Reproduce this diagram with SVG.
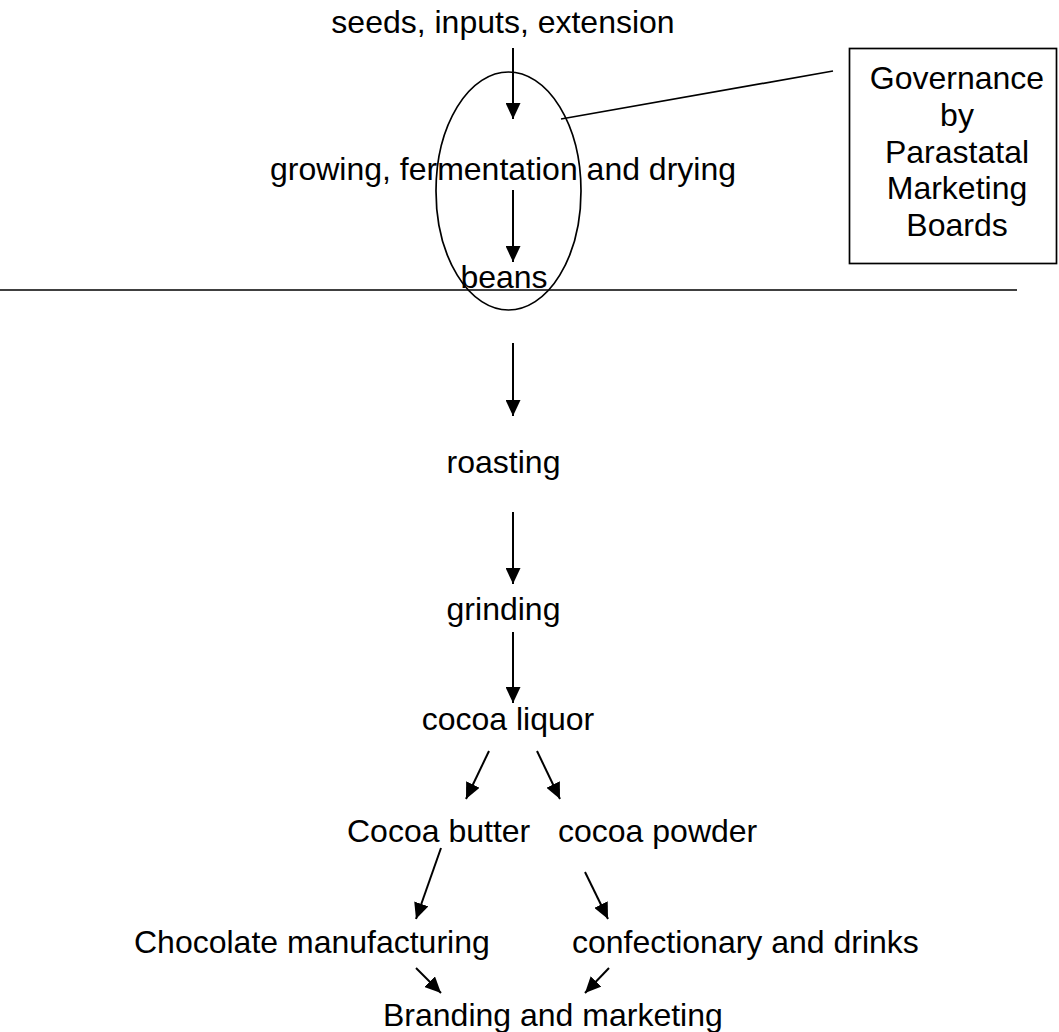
<svg xmlns="http://www.w3.org/2000/svg" width="1059" height="1032" viewBox="0 0 1059 1032">
  <style>
    text { font-family: "Liberation Sans", Arial, sans-serif; font-size: 32px; fill: #000; }
    .c { text-anchor: middle; }
    .ln { stroke: #000; stroke-width: 1.7; fill: none; }
    .arr { stroke: #000; stroke-width: 2; fill: none; marker-end: url(#head); }
  </style>
  <defs>
    <marker id="head" markerUnits="userSpaceOnUse" markerWidth="16" markerHeight="15" refX="16" refY="7.5" orient="auto">
      <path d="M0,0 L16,7.5 L0,15 z" fill="#000"/>
    </marker>
  </defs>
  <rect width="1059" height="1032" fill="#fff"/>

  <!-- farm-level stages -->
  <g id="seeds"><text class="c" x="503" y="33">seeds, inputs, extension</text></g>
  <g id="growing"><text class="c" x="503" y="180">growing, fermentation and drying</text></g>
  <g id="beans"><text class="c" x="504" y="288">beans</text></g>

  <!-- marketing board scope -->
  <g id="board-scope"><ellipse class="ln" cx="508.5" cy="191" rx="72.5" ry="119"/></g>
  <g id="governance">
    <rect class="ln" x="849.5" y="48.5" width="207" height="215"/>
    <text class="c" x="957" y="89">Governance</text>
    <text class="c" x="957" y="126">by</text>
    <text class="c" x="957" y="162.5">Parastatal</text>
    <text class="c" x="957" y="199">Marketing</text>
    <text class="c" x="957" y="235.5">Boards</text>
  </g>

  <!-- divider between producing and processing -->
  <g id="divider"><line class="ln" x1="0" y1="290" x2="1017" y2="290"/></g>

  <!-- processing stages -->
  <g id="roasting"><text class="c" x="503.5" y="473">roasting</text></g>
  <g id="grinding"><text class="c" x="503.5" y="620">grinding</text></g>
  <g id="liquor"><text class="c" x="508" y="730">cocoa liquor</text></g>
  <g id="butter"><text x="347" y="842">Cocoa butter</text></g>
  <g id="powder"><text x="558" y="842">cocoa powder</text></g>
  <g id="chocolate"><text x="134" y="953">Chocolate manufacturing</text></g>
  <g id="confectionary"><text x="572" y="953">confectionary and drinks</text></g>
  <g id="branding"><text x="383" y="1026">Branding and marketing</text></g>

  <g id="connectors">
    <line class="arr" x1="513" y1="48" x2="513" y2="119"/>
    <line class="arr" x1="513" y1="190" x2="513" y2="262"/>
    <line class="ln" x1="561" y1="119" x2="833" y2="71"/>
    <line class="arr" x1="513" y1="343" x2="513" y2="416"/>
    <line class="arr" x1="513" y1="512" x2="513" y2="584"/>
    <line class="arr" x1="513" y1="632" x2="513" y2="703"/>
    <line class="arr" x1="489" y1="751" x2="466" y2="799"/>
    <line class="arr" x1="537" y1="751" x2="560" y2="799"/>
    <line class="arr" x1="441" y1="848" x2="416" y2="919"/>
    <line class="arr" x1="585" y1="872" x2="608" y2="919"/>
    <line class="arr" x1="416" y1="968" x2="441" y2="993"/>
    <line class="arr" x1="609" y1="968" x2="585" y2="993"/>
  </g>
</svg>
